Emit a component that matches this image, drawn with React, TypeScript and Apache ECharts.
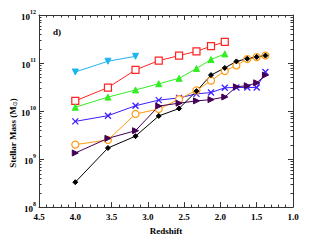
import React, { useEffect, useRef } from "react";
import * as echarts from "echarts";

// Redshift bins
const Z = [4.0, 3.55, 3.17, 2.85, 2.57, 2.33, 2.13, 1.94, 1.78, 1.63, 1.5, 1.38];

// Stellar masses (M_sun) per series
const CYAN = [6.5e10, 1.09e11, 1.38e11];
const RED = [1.63e10, 3.08e10, 7.2e10, 1.12e11, 1.43e11, 1.75e11, 2.24e11, 2.75e11];
const GREEN = [1.2e10, 1.95e10, 2.75e10, 3.7e10, 4.8e10, 7.7e10, 1.18e11, 1.55e11];
const BLUE = [6.1e9, 8.0e9, 1.29e10, 1.69e10, 1.88e10, 2.28e10, 2.43e10, 3.05e10, 3.1e10, 3.1e10, 3.1e10, 6.5e10];
const ORANGE = [2.0e9, 2.5e9, 8.7e9, 1.1e10, 1.77e10, 2.7e10, 4.3e10, 6.8e10, 8.9e10, 1.21e11, 1.33e11, 1.43e11];
const PURPLE = [1.34e9, 2.7e9, 3.9e9, 1.27e10, 1.46e10, 1.63e10, 1.73e10, 1.96e10, 3.2e10, 3.37e10, 3.87e10, 5.6e10];
const BLACK = [3.3e8, 1.7e9, 3.0e9, 7.9e9, 1.13e10, 2.6e10, 5.6e10, 7.9e10, 1.08e11, 1.23e11, 1.34e11, 1.43e11];

const X_MIN = 1.0;
const X_MAX = 4.5;
const Y_MIN = 1e8;
const Y_MAX = 1e12;

const FONT = "Liberation Serif";
const AX = "#333";

const pairs = (vals: number[]) => vals.map((v, i) => [Z[i], v]);

const minorY: number[] = [];
for (let e = 8; e < 12; e++) {
  for (let m = 2; m <= 9; m++) minorY.push(m * Math.pow(10, e));
}

export default function App() {
  const ref = useRef<HTMLDivElement>(null);
  useEffect(() => {
    if (!ref.current) return;
    const chart = echarts.init(ref.current, null, { renderer: "svg" });

    const xCommon = {
      type: "value",
      min: X_MIN,
      max: X_MAX,
      interval: 0.5,
      inverse: true,
      splitLine: { show: false },
      axisLine: { show: true, onZero: false, lineStyle: { color: AX, width: 1 } },
      axisTick: { show: true, inside: true, length: 5, lineStyle: { color: AX } },
      minorTick: { show: true, splitNumber: 5, length: 2.5, lineStyle: { color: AX } },
    };
    const yCommon = {
      type: "log",
      logBase: 10,
      min: Y_MIN,
      max: Y_MAX,
      splitLine: { show: false },
      axisLine: { show: true, onZero: false, lineStyle: { color: AX, width: 1 } },
      axisTick: { show: true, inside: true, length: 5, lineStyle: { color: AX } },
    };

    const line = (name: string, vals: number[], color: string, symbol: string, size: number, extra: any = {}) => ({
      name,
      type: "line",
      data: pairs(vals),
      symbol,
      symbolSize: size,
      showAllSymbol: true,
      lineStyle: { color, width: 1 },
      itemStyle: { color, borderColor: color, borderWidth: 1 },
      z: 3,
      ...extra,
    });

    chart.setOption({
      animation: false,
      backgroundColor: "#fff",
      textStyle: { fontFamily: FONT },
      grid: { left: 39, right: 22, top: 15, bottom: 31 },
      xAxis: [
        {
          ...xCommon,
          position: "bottom",
          name: "Redshift",
          nameLocation: "middle",
          nameGap: 17,
          nameTextStyle: { fontFamily: FONT, fontWeight: "bold", fontSize: 9, color: "#000" },
          axisLabel: {
            show: true,
            margin: 5,
            fontFamily: FONT,
            fontWeight: "bold",
            fontSize: 9,
            color: "#000",
            formatter: (v: number) => v.toFixed(1),
          },
        },
        { ...xCommon, position: "top", axisLabel: { show: false } },
      ],
      yAxis: [
        {
          ...yCommon,
          position: "left",
          axisLabel: {
            show: true,
            margin: 3,
            color: "#000",
            formatter: (v: number) => "{b|10}{s|" + Math.round(Math.log10(v)) + "}",
            rich: {
              b: { fontFamily: FONT, fontWeight: "bold", fontSize: 9, color: "#000", padding: [4, 0, 0, 0] },
              s: { fontFamily: FONT, fontWeight: "bold", fontSize: 6, color: "#000", verticalAlign: "top" },
            },
          },
        },
        { ...yCommon, position: "right", axisLabel: { show: false } },
      ],
      graphic: [
        {
          type: "text",
          x: 13,
          y: 133,
          rotation: Math.PI / 2,
          style: {
            text: "{t|Stellar Mass (M}{sub|⊙}{t|)}",
            align: "center",
            verticalAlign: "middle",
            rich: {
              t: { fontFamily: FONT, fontWeight: "bold", fontSize: 9, fill: "#000" },
              sub: { fontFamily: "DejaVu Sans", fontSize: 6, fill: "#000", verticalAlign: "bottom", padding: [3, 0, 0, 0] },
            },
          },
        },
        {
          type: "text",
          x: 53,
          y: 32,
          style: {
            text: "d)",
            fontFamily: FONT,
            fontWeight: "bold",
            fontSize: 9,
            fill: "#000",
            align: "left",
            verticalAlign: "middle",
          },
        },
      ],
      series: [
        {
          type: "custom",
          silent: true,
          xAxisIndex: 0,
          yAxisIndex: 0,
          data: minorY.map((v) => [2, v]),
          renderItem: (params: any, api: any) => {
            const pt = api.coord([api.value(0), api.value(1)]);
            const cs = params.coordSys;
            const y = Math.round(pt[1]) + 0.5;
            return {
              type: "group",
              children: [
                { type: "line", shape: { x1: cs.x, y1: y, x2: cs.x + 2.5, y2: y }, style: { stroke: AX, lineWidth: 1 } },
                {
                  type: "line",
                  shape: { x1: cs.x + cs.width - 2.5, y1: y, x2: cs.x + cs.width, y2: y },
                  style: { stroke: AX, lineWidth: 1 },
                },
              ],
            };
          },
          z: 1,
        },
        line("cyan", CYAN, "#1eb4ee", "triangle", 6, { symbolRotate: 180 }),
        line("red", RED, "#ff2222", "rect", 7, { itemStyle: { color: "#fff", borderColor: "#ff2222", borderWidth: 1.2 } }),
        line("green", GREEN, "#33ee22", "triangle", 6),
        line("blue", BLUE, "#3a1cff", "path://M0,0L10,10M10,0L0,10", 6, {
          itemStyle: { color: "none", borderColor: "#3a1cff", borderWidth: 1.2 },
        }),
        line("orange", ORANGE, "#ff9911", "circle", 7, { itemStyle: { color: "#fff", borderColor: "#ff9911", borderWidth: 1.2 } }),
        line("purple", PURPLE, "#440055", "triangle", 6, { symbolRotate: -90 }),
        line("black", BLACK, "#000000", "diamond", 5),
      ],
    });
    return () => chart.dispose();
  }, []);
  return <div ref={ref} style={{ position: "fixed", left: 0, top: 0, width: 315, height: 240 }} />;
}
